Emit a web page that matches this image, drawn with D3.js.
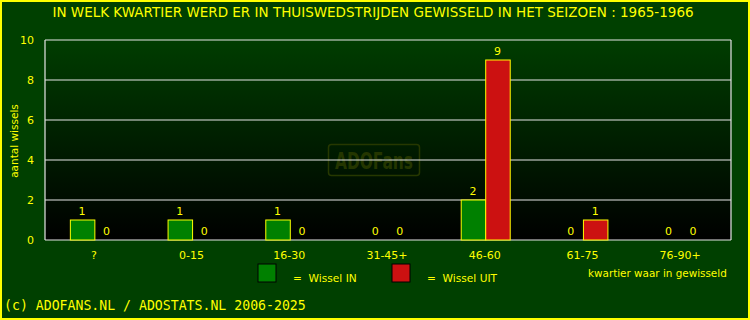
<!DOCTYPE html>
<html><head><meta charset="utf-8">
<script src="https://cdn.jsdelivr.net/npm/d3@7"></script>
<style>html,body{margin:0;padding:0;background:#004000;}svg{display:block;}</style>
</head><body>
<script>
const categories = ["?", "0-15", "16-30", "31-45+", "46-60", "61-75", "76-90+"];
const wisselIn = [1, 1, 1, 0, 2, 0, 0];
const wisselUit = [0, 0, 0, 0, 9, 1, 0];
const yTicks = [0, 2, 4, 6, 8, 10];
const seriesNames = ["Wissel IN", "Wissel UIT"];
const seriesColors = ["#008000", "#cc1111"];
const title = "IN WELK KWARTIER WERD ER IN THUISWEDSTRIJDEN GEWISSELD IN HET SEIZOEN : 1965-1966";
const yTitle = "aantal wissels";
const xTitle = "kwartier waar in gewisseld";
const footer = "(c) ADOFANS.NL / ADOSTATS.NL 2006-2025";

const W = 750, H = 320;
const yellow = "#ffff00";
const font = "DejaVu Sans, sans-serif";
const svg = d3.select("body").append("svg").attr("width", W).attr("height", H);

const defs = svg.append("defs");
const grad = defs.append("linearGradient").attr("id", "bg").attr("x1", 0).attr("y1", 0).attr("x2", 0).attr("y2", 1);
grad.append("stop").attr("offset", "0%").attr("stop-color", "#003d00");
grad.append("stop").attr("offset", "100%").attr("stop-color", "#000000");

svg.append("rect").attr("x", 1).attr("y", 1).attr("width", W - 2).attr("height", H - 2)
  .attr("fill", "#004000").attr("stroke", yellow).attr("stroke-width", 2);

const m = {left: 45, right: 731, top: 40, bottom: 240};
const x = d3.scaleBand().domain(categories).range([46, 730]);
const y = d3.scaleLinear().domain([0, 10]).range([m.bottom, m.top]);

svg.append("rect").attr("x", m.left).attr("y", m.top).attr("width", m.right - m.left).attr("height", m.bottom - m.top)
  .attr("fill", "url(#bg)");

// watermark
const wm = svg.append("g");
wm.append("rect").attr("x", 328.5).attr("y", 144.5).attr("width", 91).attr("height", 31).attr("rx", 3)
  .attr("fill", "none").attr("stroke", "#263800").attr("stroke-width", 1.5);
wm.append("text").attr("x", 335).attr("y", 169)
  .attr("font-family", "DejaVu Sans Condensed, DejaVu Sans, sans-serif").attr("font-weight", "bold").attr("font-size", 23)
  .attr("textLength", 78).attr("lengthAdjust", "spacingAndGlyphs")
  .attr("fill", "#243600").text("ADOFans");

// gridlines
svg.append("g").selectAll("line").data(yTicks).join("line")
  .attr("x1", m.left).attr("x2", m.right).attr("y1", d => y(d)).attr("y2", d => y(d))
  .attr("stroke", "#e6e6e6").attr("stroke-width", 1.2);
svg.append("line").attr("x1", m.left).attr("x2", m.left).attr("y1", m.top).attr("y2", m.bottom).attr("stroke", "#e6e6e6").attr("stroke-width", 1.2);
svg.append("line").attr("x1", m.right).attr("x2", m.right).attr("y1", m.top).attr("y2", m.bottom).attr("stroke", "#e6e6e6").attr("stroke-width", 1.2);

// y axis
const yAxis = d3.axisLeft(y).tickValues(yTicks).tickSize(0).tickPadding(11);
const gy = svg.append("g").attr("transform", `translate(${m.left},0)`).call(yAxis);
gy.select(".domain").remove();
gy.selectAll("text").attr("fill", yellow).attr("font-family", font).attr("font-size", 11);

// x axis
const xAxis = d3.axisBottom(x).tickSize(0).tickPadding(10);
const gx = svg.append("g").attr("transform", `translate(-1,${m.bottom + 1})`).call(xAxis);
gx.select(".domain").remove();
gx.selectAll("text").attr("fill", yellow).attr("font-family", font).attr("font-size", 11);

// bars
const bw = 24.5;
const data = categories.map((c, i) => ({c, vals: [wisselIn[i], wisselUit[i]]}));
const groups = svg.append("g").selectAll("g").data(data).join("g");
groups.each(function(d) {
  const g = d3.select(this);
  const cx = x(d.c) + x.bandwidth() / 2;
  d.vals.forEach((v, k) => {
    const bx = k === 0 ? cx - bw : cx;
    if (v > 0) {
      g.append("rect").attr("x", bx).attr("y", y(v)).attr("width", bw).attr("height", y(0) - y(v))
        .attr("fill", seriesColors[k]).attr("stroke", yellow).attr("stroke-width", 1);
    }
    g.append("text").attr("x", bx + bw / 2 - 0.5).attr("y", y(v) - 5).attr("text-anchor", "middle")
      .attr("font-family", font).attr("font-size", 11).attr("fill", yellow).text(v);
  });
});

// title
svg.append("text").attr("x", 373).attr("y", 17).attr("text-anchor", "middle")
  .attr("font-family", font).attr("font-size", 13.5).attr("fill", yellow).text(title);

// y title
svg.append("text").attr("transform", "translate(18,141) rotate(-90)").attr("text-anchor", "middle")
  .attr("font-family", font).attr("font-size", 10.5).attr("fill", yellow).text(yTitle);

// x title
svg.append("text").attr("x", 588).attr("y", 277).attr("font-family", font).attr("font-size", 10.4).attr("fill", yellow).text(xTitle);

// legend
const legX = [258, 392];
const legTextX = [293, 427];
seriesNames.forEach((n, k) => {
  svg.append("rect").attr("x", legX[k]).attr("y", 264).attr("width", 18).attr("height", 18)
    .attr("fill", seriesColors[k]).attr("stroke", "#000").attr("stroke-width", 1);
  svg.append("text").attr("x", legTextX[k]).attr("y", 281.5).attr("font-family", font).attr("font-size", 10.6)
    .attr("fill", yellow).attr("xml:space", "preserve").text("=  " + n);
});

// footer
svg.append("text").attr("x", 4).attr("y", 310).attr("font-family", "DejaVu Sans Mono, monospace").attr("font-size", 13.2)
  .attr("fill", yellow).text(footer);
</script>
</body></html>
